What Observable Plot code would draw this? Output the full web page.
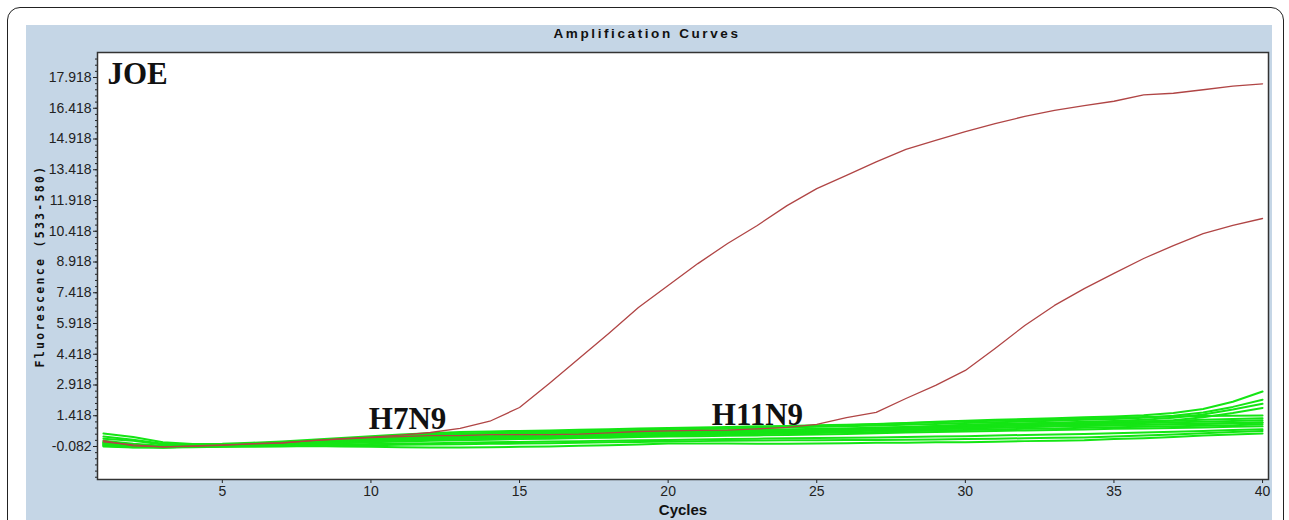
<!DOCTYPE html>
<html>
<head>
<meta charset="utf-8">
<script src="https://cdn.jsdelivr.net/npm/d3@7"></script>
<script src="https://cdn.jsdelivr.net/npm/@observablehq/plot@0.6"></script>
<style>
  html, body { margin: 0; padding: 0; background: #fff; }
  #wrap { position: relative; width: 1289px; height: 520px; overflow: hidden; background: #fff; }
  #outer { position: absolute; left: 7px; top: 7px; width: 1277px; height: 560px; border: 1.5px solid #222; border-radius: 13px; box-sizing: border-box; }
  #panel { position: absolute; left: 26px; top: 25px; width: 1246px; height: 520px; background: #c5d6e6; }
  #chart { position: absolute; left: 0; top: 0; }
</style>
</head>
<body>
<div id="wrap">
  <div id="outer"></div>
  <div id="panel"></div>
  <div id="chart"></div>
</div>
<script>
// ---------- data ----------
const cycles = [1,2,3,4,5,6,7,8,9,10,11,12,13,14,15,16,17,18,19,20,21,22,23,24,25,26,27,28,29,30,31,32,33,34,35,36,37,38,39,40];

const xTicks = [5, 10, 15, 20, 25, 30, 35, 40];
const yTicks = [-0.082, 1.418, 2.918, 4.418, 5.918, 7.418, 8.918, 10.418, 11.918, 13.418, 14.918, 16.418, 17.918];

const titleText = "Amplification Curves";
const xLabel = "Cycles";
const yLabel = "Fluorescence (533-580)";
const dyeLabel = "JOE";

// positive samples (red)
const h7n9 = [0.15,0.0,-0.1,-0.08,-0.03,0.05,0.1,0.2,0.3,0.38,0.47,0.6,0.8,1.15,1.82,2.99,4.21,5.43,6.7,7.77,8.84,9.82,10.7,11.67,12.5,13.14,13.8,14.41,14.85,15.28,15.67,16.02,16.31,16.55,16.76,17.07,17.15,17.32,17.5,17.61];
const h11n9 = [0.2,-0.05,-0.1,-0.05,0.0,0.05,0.08,0.2,0.28,0.35,0.4,0.45,0.45,0.5,0.5,0.5,0.52,0.58,0.65,0.68,0.7,0.72,0.78,0.85,1.0,1.33,1.58,2.26,2.9,3.63,4.7,5.82,6.8,7.62,8.36,9.09,9.72,10.3,10.7,11.04];

// negative samples (green)
const g1 = [0.55,0.38,0.12,0.04,0.05,0.1,0.16,0.25,0.33,0.42,0.5,0.57,0.62,0.65,0.68,0.7,0.73,0.76,0.8,0.82,0.85,0.87,0.9,0.92,0.95,0.98,1.02,1.06,1.12,1.18,1.22,1.26,1.3,1.34,1.38,1.44,1.55,1.75,2.1,2.6];
const g2 = [0.3,0.2,0.02,-0.02,0.0,0.06,0.12,0.2,0.28,0.36,0.43,0.5,0.55,0.58,0.62,0.64,0.66,0.7,0.72,0.75,0.78,0.8,0.82,0.85,0.88,0.9,0.94,0.98,1.02,1.06,1.1,1.14,1.18,1.22,1.26,1.32,1.42,1.58,1.85,2.2];
const g3 = [0.2,0.05,-0.05,-0.05,-0.02,0.03,0.08,0.15,0.22,0.3,0.36,0.42,0.46,0.5,0.53,0.56,0.58,0.61,0.64,0.66,0.68,0.7,0.72,0.75,0.78,0.8,0.84,0.87,0.92,0.98,1.02,1.05,1.08,1.12,1.16,1.22,1.32,1.48,1.72,2.0];
const g4 = [0.1,0.0,-0.1,-0.06,-0.03,0.02,0.06,0.12,0.2,0.27,0.33,0.38,0.42,0.46,0.5,0.52,0.55,0.58,0.6,0.62,0.64,0.66,0.7,0.72,0.75,0.78,0.81,0.85,0.88,0.92,0.95,0.98,1.0,1.03,1.07,1.12,1.2,1.35,1.55,1.8];
const g5 = [0.05,-0.05,-0.1,-0.08,-0.05,0.0,0.05,0.12,0.2,0.3,0.38,0.45,0.5,0.55,0.6,0.63,0.66,0.68,0.7,0.74,0.77,0.8,0.84,0.88,0.92,0.96,1.0,1.05,1.1,1.14,1.18,1.2,1.24,1.28,1.32,1.36,1.38,1.4,1.42,1.43];
const g6 = [0.15,0.0,-0.08,-0.07,-0.04,0.0,0.05,0.12,0.2,0.26,0.3,0.35,0.4,0.42,0.46,0.5,0.52,0.55,0.58,0.6,0.62,0.65,0.68,0.7,0.72,0.75,0.8,0.85,0.9,0.95,1.0,1.02,1.05,1.08,1.12,1.15,1.18,1.22,1.26,1.3];
const g7 = [0.0,-0.08,-0.12,-0.1,-0.06,-0.02,0.02,0.08,0.15,0.2,0.26,0.3,0.34,0.38,0.4,0.43,0.46,0.5,0.52,0.55,0.58,0.6,0.62,0.65,0.68,0.72,0.75,0.78,0.82,0.86,0.9,0.95,0.98,1.0,1.03,1.06,1.1,1.13,1.16,1.2];
const g8 = [0.08,-0.03,-0.1,-0.08,-0.05,-0.02,0.03,0.08,0.12,0.18,0.22,0.26,0.3,0.33,0.36,0.4,0.42,0.45,0.48,0.5,0.53,0.55,0.58,0.6,0.62,0.65,0.7,0.72,0.76,0.8,0.83,0.86,0.9,0.93,0.96,0.98,1.0,1.04,1.07,1.1];
const g9 = [-0.02,-0.1,-0.12,-0.09,-0.06,-0.03,0.0,0.05,0.1,0.15,0.2,0.24,0.28,0.3,0.33,0.36,0.38,0.4,0.42,0.45,0.48,0.5,0.52,0.55,0.58,0.6,0.63,0.66,0.7,0.72,0.75,0.78,0.8,0.83,0.86,0.88,0.9,0.93,0.96,1.0];
const g10 = [0.12,0.0,-0.08,-0.08,-0.06,-0.03,0.0,0.04,0.08,0.12,0.16,0.2,0.22,0.25,0.28,0.3,0.33,0.35,0.38,0.4,0.42,0.44,0.46,0.48,0.5,0.53,0.56,0.6,0.62,0.65,0.68,0.7,0.72,0.75,0.78,0.8,0.82,0.85,0.88,0.9];
const g11 = [-0.05,-0.12,-0.13,-0.1,-0.08,-0.05,-0.02,0.0,0.02,0.04,0.06,0.08,0.1,0.12,0.14,0.16,0.18,0.2,0.22,0.24,0.26,0.28,0.3,0.32,0.33,0.35,0.36,0.38,0.4,0.42,0.45,0.48,0.5,0.53,0.56,0.6,0.64,0.68,0.72,0.76];
const g12 = [0.02,-0.08,-0.12,-0.1,-0.08,-0.06,-0.06,-0.05,-0.04,-0.02,0.0,0.02,0.03,0.05,0.06,0.08,0.1,0.12,0.14,0.16,0.18,0.2,0.21,0.22,0.22,0.23,0.24,0.25,0.26,0.28,0.3,0.32,0.34,0.36,0.4,0.45,0.5,0.56,0.62,0.68];
const g13 = [-0.08,-0.13,-0.13,-0.12,-0.1,-0.09,-0.08,-0.06,-0.08,-0.1,-0.12,-0.13,-0.13,-0.12,-0.1,-0.08,-0.05,-0.02,0.02,0.06,0.06,0.06,0.05,0.05,0.06,0.08,0.1,0.1,0.12,0.13,0.15,0.18,0.2,0.22,0.28,0.32,0.38,0.45,0.5,0.55];
const g14 = [0.4,0.25,0.05,0.0,0.0,0.04,0.1,0.16,0.24,0.3,0.36,0.4,0.45,0.48,0.5,0.53,0.56,0.58,0.6,0.62,0.64,0.66,0.68,0.7,0.72,0.74,0.76,0.78,0.8,0.82,0.85,0.88,0.9,0.92,0.95,0.98,1.0,1.02,1.05,1.08];

const greenSeries = [g1, g2, g3, g4, g5, g6, g7, g8, g9, g10, g11, g12, g13, g14];
const redSeries = [h7n9, h11n9];

// curve annotations (anchored at the point where each curve leaves the baseline)
const annotations = [
  { text: "H7N9", cycle: 9.93, value: 0.75 },
  { text: "H11N9", cycle: 21.47, value: 0.99 }
];

// ---------- table building ----------
const toRows = (list, prefix) => list.flatMap((vals, i) =>
  vals.map((v, j) => ({ series: prefix + i, cycle: cycles[j], value: v })));
const greenRows = toRows(greenSeries, "g");
const redRows = toRows(redSeries, "r");

const yMinor = d3.range(-1.582, 19.1, 0.3);

const svg = Plot.plot({
  width: 1289,
  height: 520,
  marginLeft: 97,
  marginTop: 52,
  marginRight: 21,
  marginBottom: 41,
  x: { domain: [0.8, 40.2] },
  y: { domain: [-1.692, 19.138] },
  style: { background: "transparent", fontFamily: "'Liberation Sans', Arial, sans-serif", fontSize: "14px", color: "#222" },
  marks: [
    Plot.frame({ fill: "white" }),
    Plot.line(greenRows, { x: "cycle", y: "value", z: "series", stroke: "#14e514", strokeWidth: 2 }),
    Plot.line(redRows, { x: "cycle", y: "value", z: "series", stroke: "#b04545", strokeWidth: 1.3 }),
    Plot.text(annotations, { x: "cycle", y: "value", text: "text", textAnchor: "start", lineAnchor: "bottom",
      fontFamily: "'Liberation Serif', 'Times New Roman', serif", fontWeight: "bold", fontSize: 31, fill: "#111" }),
    Plot.text([dyeLabel], { frameAnchor: "top-left", dx: 10, dy: 31, textAnchor: "start", lineAnchor: "bottom",
      fontFamily: "'Liberation Serif', 'Times New Roman', serif", fontWeight: "bold", fontSize: 31, fill: "#111" }),
    Plot.axisX({ ticks: xTicks, tickSize: 4, tickPadding: 3, label: null, fontSize: 14 }),
    Plot.axisY({ ticks: yMinor, tickSize: 2, text: null, label: null }),
    Plot.axisY({ ticks: yTicks, tickSize: 4, tickPadding: 2, tickFormat: d => d.toFixed(3), label: null, fontSize: 14 }),
    Plot.frame({ stroke: "#333", strokeWidth: 1.5 }),
    Plot.text([titleText], { frameAnchor: "top", dx: -36, dy: -19, lineAnchor: "middle", fontWeight: "bold", fontSize: 13.5, fill: "#111" }),
    Plot.text([xLabel], { frameAnchor: "bottom", dy: 31, lineAnchor: "middle", fontWeight: "bold", fontSize: 15, fill: "#111" }),
    Plot.text([yLabel], { frameAnchor: "left", dx: -57, rotate: -90, textAnchor: "middle", lineAnchor: "middle",
      fontFamily: "'DejaVu Sans Mono', monospace", fontWeight: "bold", fontSize: 11.5, fill: "#111" })
  ]
});

d3.select(svg).selectAll("text").each(function() {
  const t = this.textContent;
  if (t === titleText) d3.select(this).style("letter-spacing", "2.6px");
  if (t === yLabel) d3.select(this).style("letter-spacing", "2.3px");
});
document.getElementById("chart").appendChild(svg);
</script>
</body>
</html>
